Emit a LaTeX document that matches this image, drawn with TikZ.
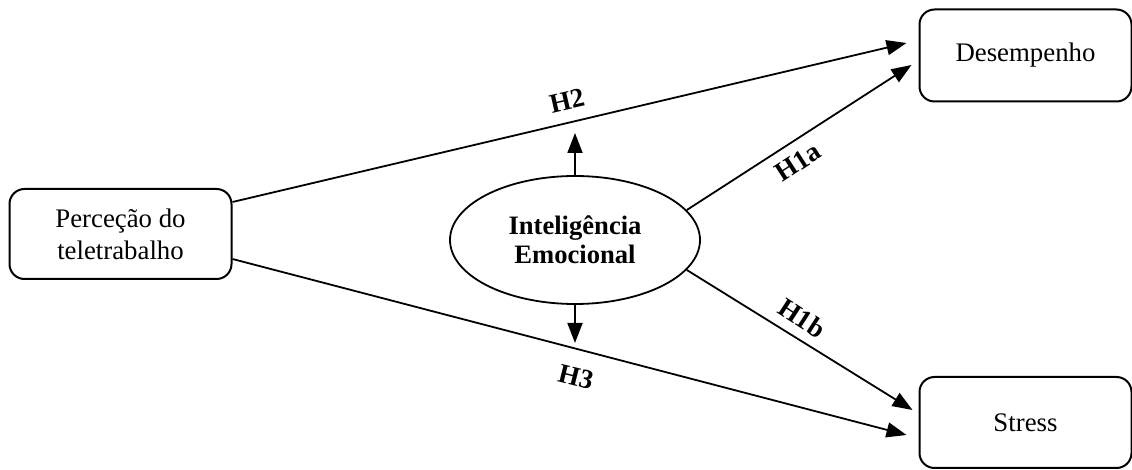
\documentclass[tikz,border=0pt]{standalone}
\usepackage{fontspec}
\setmainfont{Liberation Serif}
\usetikzlibrary{shapes.geometric,arrows.meta}
\begin{document}
\begin{tikzpicture}[x=0.5pt,y=-0.5pt,
  box/.style={draw,line width=1pt,rounded corners=7.5pt,minimum width=106pt,minimum height=46pt,inner sep=0pt,font=\fontsize{13.4}{16}\selectfont,align=center},
  conn/.style={line width=0.9pt,-{Triangle[length=10pt,width=7.5pt]}},
  lab/.style={font=\fontsize{13.6}{15}\selectfont\bfseries,inner sep=0pt}]
\useasboundingbox (0,0) rectangle (1132,470);
\node[box,minimum width=111pt,minimum height=45pt] (left) at (120.5,234) {Perceção do\\teletrabalho};
\node[box] (des) at (1025.5,55.5) {Desempenho};
\node[box,minimum height=45.5pt] (str) at (1025.5,422.5) {Stress};
\node[draw,ellipse,line width=0.9pt,minimum width=125pt,minimum height=64pt,inner sep=0pt,align=center,font=\fontsize{13.3}{14.5}\selectfont\bfseries] (ie) at (575,240) {Inteligência\\Emocional};
\coordinate (up) at (575,133);
\coordinate (dn) at (575,343);
\draw[conn] ([yshift=16pt]left.east) -- ([xshift=-6pt,yshift=6.25pt]des.west);
\draw[conn] ([yshift=-12.5pt]left.east) -- ([xshift=-6pt,yshift=-6.25pt]str.west);
\draw[conn] (ie.15) -- ([xshift=-3.5pt,yshift=-4.75pt]des.west);
\draw[conn] (ie.-15) -- ([xshift=-3pt,yshift=6.25pt]str.west);
\draw[conn] (ie.north) -- (up);
\draw[conn] (ie.south) -- (dn);
\node[lab,rotate=13] (h2) at (567,101) {H2};
\node[lab,rotate=-14] (h3) at (576,377) {H3};
\node[lab,rotate=33] (h1a) at (798,162) {H1a};
\node[lab,rotate=-33] (h1b) at (802,318) {H1b};
\end{tikzpicture}
\end{document}
